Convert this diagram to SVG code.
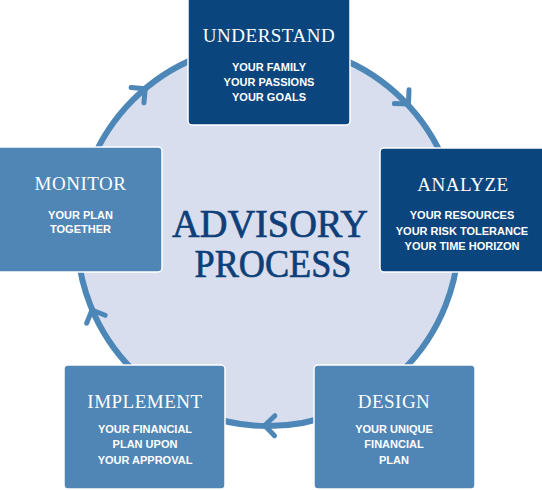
<svg xmlns="http://www.w3.org/2000/svg" width="542" height="490" viewBox="0 0 542 490">
<defs>
<style>
.bg{fill:#ffffff}
.ring{fill:#d8deee;stroke:#4c87b7;stroke-width:6}
.chev{fill:none;stroke:#4c87b7;stroke-width:5;stroke-linecap:round;stroke-linejoin:round}
.dark{fill:#0b457e;stroke:#ffffff;stroke-width:1.5}
.mid{fill:#5086b5;stroke:#ffffff;stroke-width:1.5}
.title{font-family:"Liberation Serif","Times New Roman",serif;font-size:19px;fill:#ffffff;text-anchor:middle;letter-spacing:0.5px}
.sub{font-family:"Liberation Sans",Arial,sans-serif;font-weight:bold;font-size:11px;fill:#ffffff;text-anchor:middle}
.center{font-family:"Liberation Serif","Times New Roman",serif;font-size:39px;fill:#0e3f79;stroke:#0e3f79;stroke-width:0.7;text-anchor:middle}
</style>
<path id="chv" d="M -10 -10 L 0 0 L -10 10"/>
</defs>
<rect class="bg" x="0" y="0" width="542" height="490"/>
<circle class="ring" cx="268" cy="235" r="191"/>
<g id="connectors">
<use href="#chv" class="chev" transform="translate(145.2 88.7) rotate(-40)"/>
<use href="#chv" class="chev" transform="translate(408.5 104) rotate(47)"/>
<use href="#chv" class="chev" transform="translate(264.7 425.5) rotate(181)"/>
<use href="#chv" class="chev" transform="translate(92 310) rotate(247)"/>
</g>
<g id="center-label">
<text class="center" x="270" y="237" textLength="196" lengthAdjust="spacingAndGlyphs">ADVISORY</text>
<text class="center" x="273" y="277" textLength="157" lengthAdjust="spacingAndGlyphs">PROCESS</text>
</g>
<g id="understand">
<rect class="dark" x="188" y="-4" width="162" height="129" rx="4"/>
<text class="title" x="269" y="42">UNDERSTAND</text>
<text class="sub" x="269" y="70.5">YOUR FAMILY</text>
<text class="sub" x="269" y="85.5">YOUR PASSIONS</text>
<text class="sub" x="269" y="100.5">YOUR GOALS</text>
</g>
<g id="analyze">
<rect class="dark" x="380" y="148" width="166" height="124" rx="4"/>
<text class="title" x="463" y="191">ANALYZE</text>
<text class="sub" x="462" y="219">YOUR RESOURCES</text>
<text class="sub" x="462" y="234.5">YOUR RISK TOLERANCE</text>
<text class="sub" x="462" y="250">YOUR TIME HORIZON</text>
</g>
<g id="monitor">
<rect class="mid" x="-4" y="147" width="166" height="125" rx="4"/>
<text class="title" x="80.5" y="190">MONITOR</text>
<text class="sub" x="80.5" y="218.5">YOUR PLAN</text>
<text class="sub" x="80.5" y="233">TOGETHER</text>
</g>
<g id="implement">
<rect class="mid" x="64" y="365" width="161" height="124" rx="4"/>
<text class="title" x="145" y="407.5">IMPLEMENT</text>
<text class="sub" x="145" y="433">YOUR FINANCIAL</text>
<text class="sub" x="145" y="448">PLAN UPON</text>
<text class="sub" x="145" y="463.5">YOUR APPROVAL</text>
</g>
<g id="design">
<rect class="mid" x="314" y="365" width="161" height="124" rx="4"/>
<text class="title" x="394" y="407.5">DESIGN</text>
<text class="sub" x="394" y="433">YOUR UNIQUE</text>
<text class="sub" x="394" y="448">FINANCIAL</text>
<text class="sub" x="394" y="463.5">PLAN</text>
</g>
</svg>
